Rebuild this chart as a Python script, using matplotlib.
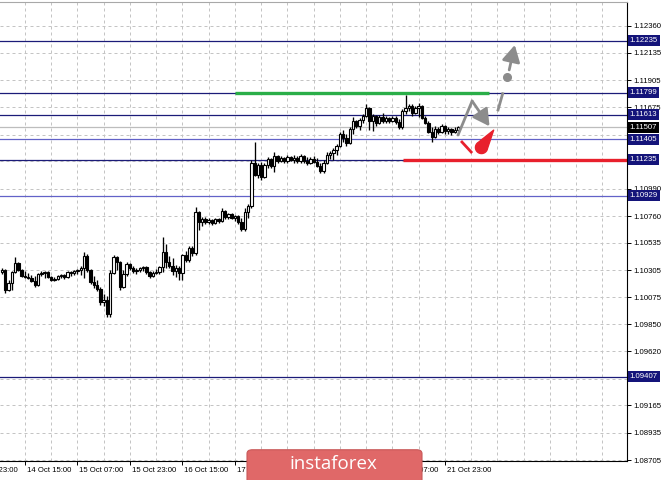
import matplotlib.pyplot as plt
from matplotlib.patches import FancyBboxPatch
from matplotlib.path import Path
import numpy as np

plt.rcParams['font.family'] = ['Liberation Sans', 'DejaVu Sans']

# hourly candles, bar index counted from 11 Oct 23:00 (weekend skipped)
first_bar = 9
opens = [
    1.10289, 1.10305, 1.10137, 1.10196, 1.10289, 1.10364, 1.10305, 1.10255, 1.10246, 1.10238,
    1.10213, 1.10179, 1.10272, 1.10280, 1.10289, 1.10246, 1.10221, 1.10229, 1.10255, 1.10263,
    1.10246, 1.10289, 1.10280, 1.10297, 1.10305, 1.10322, 1.10423, 1.10305, 1.10204, 1.10179,
    1.10145, 1.10036, 1.10053, 1.09935, 1.10280, 1.10415, 1.10373, 1.10162, 1.10272, 1.10356,
    1.10322, 1.10297, 1.10305, 1.10322, 1.10330, 1.10289, 1.10255, 1.10280, 1.10289, 1.10330,
    1.10457, 1.10373, 1.10339, 1.10297, 1.10322, 1.10280, 1.10432, 1.10389, 1.10490, 1.10449,
    1.10794, 1.10710, 1.10735, 1.10710, 1.10726, 1.10701, 1.10735, 1.10718, 1.10802, 1.10752,
    1.10777, 1.10743, 1.10760, 1.10710, 1.10650, 1.10794, 1.10844, 1.11206, 1.11105, 1.11189,
    1.11088, 1.11189, 1.11240, 1.11181, 1.11265, 1.11223, 1.11248, 1.11223, 1.11257, 1.11231,
    1.11248, 1.11223, 1.11265, 1.11223, 1.11206, 1.11240, 1.11215, 1.11181, 1.11139, 1.11206,
    1.11273, 1.11290, 1.11316, 1.11349, 1.11450, 1.11417, 1.11375, 1.11493, 1.11560, 1.11518,
    1.11568, 1.11602, 1.11669, 1.11560, 1.11602, 1.11543, 1.11594, 1.11560, 1.11585, 1.11560,
    1.11585, 1.11552, 1.11509, 1.11644, 1.11669, 1.11686, 1.11627, 1.11669, 1.11686, 1.11585,
    1.11543, 1.11467, 1.11425, 1.11493, 1.11467, 1.11518, 1.11476, 1.11493, 1.11467, 1.11484,
]
highs = [
    1.10322, 1.10314, 1.10221, 1.10297, 1.10415, 1.10373, 1.10314, 1.10297, 1.10280, 1.10263,
    1.10255, 1.10280, 1.10297, 1.10297, 1.10297, 1.10255, 1.10246, 1.10263, 1.10272, 1.10272,
    1.10297, 1.10297, 1.10305, 1.10314, 1.10339, 1.10457, 1.10440, 1.10314, 1.10255, 1.10221,
    1.10162, 1.10103, 1.10086, 1.10305, 1.10432, 1.10423, 1.10381, 1.10305, 1.10373, 1.10364,
    1.10339, 1.10322, 1.10330, 1.10339, 1.10339, 1.10297, 1.10297, 1.10314, 1.10339, 1.10583,
    1.10524, 1.10423, 1.10406, 1.10347, 1.10339, 1.10440, 1.10465, 1.10507, 1.10507, 1.10836,
    1.10802, 1.10752, 1.10752, 1.10743, 1.10735, 1.10743, 1.10743, 1.10827, 1.10811, 1.10785,
    1.10785, 1.10769, 1.10769, 1.10743, 1.10827, 1.10861, 1.11231, 1.11383, 1.11206, 1.11215,
    1.11206, 1.11257, 1.11248, 1.11299, 1.11273, 1.11265, 1.11257, 1.11273, 1.11265, 1.11273,
    1.11265, 1.11282, 1.11273, 1.11257, 1.11257, 1.11265, 1.11248, 1.11206, 1.11231, 1.11299,
    1.11307, 1.11332, 1.11366, 1.11467, 1.11484, 1.11450, 1.11509, 1.11594, 1.11568, 1.11585,
    1.11619, 1.11703, 1.11678, 1.11619, 1.11610, 1.11610, 1.11627, 1.11602, 1.11594, 1.11602,
    1.11602, 1.11577, 1.11661, 1.11779, 1.11703, 1.11703, 1.11686, 1.11712, 1.11695, 1.11602,
    1.11560, 1.11509, 1.11518, 1.11509, 1.11535, 1.11526, 1.11509, 1.11501, 1.11509, 1.11518,
]
lows = [
    1.10272, 1.10111, 1.10128, 1.10137, 1.10280, 1.10297, 1.10246, 1.10238, 1.10229, 1.10204,
    1.10162, 1.10170, 1.10255, 1.10238, 1.10238, 1.10213, 1.10213, 1.10221, 1.10238, 1.10229,
    1.10238, 1.10255, 1.10263, 1.10272, 1.10263, 1.10238, 1.10289, 1.10187, 1.10154, 1.10128,
    1.10011, 1.10002, 1.09910, 1.09910, 1.10272, 1.10305, 1.10137, 1.10154, 1.10255, 1.10305,
    1.10280, 1.10272, 1.10289, 1.10297, 1.10272, 1.10238, 1.10246, 1.10272, 1.10272, 1.10289,
    1.10322, 1.10322, 1.10263, 1.10246, 1.10221, 1.10221, 1.10373, 1.10373, 1.10423, 1.10432,
    1.10642, 1.10676, 1.10693, 1.10693, 1.10684, 1.10693, 1.10701, 1.10710, 1.10735, 1.10735,
    1.10735, 1.10718, 1.10693, 1.10634, 1.10634, 1.10743, 1.10827, 1.11097, 1.11080, 1.11063,
    1.11080, 1.11164, 1.11164, 1.11130, 1.11206, 1.11215, 1.11206, 1.11206, 1.11223, 1.11206,
    1.11206, 1.11206, 1.11206, 1.11189, 1.11198, 1.11206, 1.11172, 1.11122, 1.11122, 1.11198,
    1.11240, 1.11231, 1.11273, 1.11341, 1.11383, 1.11349, 1.11366, 1.11450, 1.11501, 1.11484,
    1.11543, 1.11594, 1.11484, 1.11476, 1.11518, 1.11535, 1.11543, 1.11543, 1.11543, 1.11552,
    1.11535, 1.11493, 1.11493, 1.11619, 1.11644, 1.11602, 1.11619, 1.11594, 1.11577, 1.11535,
    1.11459, 1.11383, 1.11417, 1.11450, 1.11459, 1.11450, 1.11450, 1.11442, 1.11459, 1.11476,
]
closes = [
    1.10305, 1.10137, 1.10196, 1.10289, 1.10364, 1.10305, 1.10255, 1.10246, 1.10238, 1.10213,
    1.10179, 1.10272, 1.10280, 1.10289, 1.10246, 1.10221, 1.10229, 1.10255, 1.10263, 1.10246,
    1.10289, 1.10280, 1.10297, 1.10305, 1.10322, 1.10423, 1.10305, 1.10204, 1.10179, 1.10145,
    1.10036, 1.10053, 1.09935, 1.10280, 1.10415, 1.10373, 1.10162, 1.10272, 1.10356, 1.10322,
    1.10297, 1.10305, 1.10322, 1.10330, 1.10289, 1.10255, 1.10280, 1.10289, 1.10330, 1.10457,
    1.10373, 1.10339, 1.10297, 1.10322, 1.10280, 1.10432, 1.10389, 1.10490, 1.10449, 1.10794,
    1.10710, 1.10735, 1.10710, 1.10726, 1.10701, 1.10735, 1.10718, 1.10802, 1.10752, 1.10777,
    1.10743, 1.10760, 1.10710, 1.10650, 1.10794, 1.10844, 1.11206, 1.11105, 1.11189, 1.11088,
    1.11189, 1.11240, 1.11181, 1.11265, 1.11223, 1.11248, 1.11223, 1.11257, 1.11231, 1.11248,
    1.11223, 1.11265, 1.11223, 1.11206, 1.11240, 1.11215, 1.11181, 1.11139, 1.11206, 1.11273,
    1.11290, 1.11316, 1.11349, 1.11450, 1.11417, 1.11375, 1.11493, 1.11560, 1.11518, 1.11568,
    1.11602, 1.11669, 1.11560, 1.11602, 1.11543, 1.11594, 1.11560, 1.11585, 1.11560, 1.11585,
    1.11552, 1.11509, 1.11644, 1.11669, 1.11686, 1.11627, 1.11669, 1.11686, 1.11585, 1.11543,
    1.11467, 1.11425, 1.11493, 1.11467, 1.11518, 1.11476, 1.11493, 1.11467, 1.11484, 1.11507,
]

price_ticks = [1.12360, 1.12135, 1.11905, 1.11675, 1.11445, 1.11220, 1.10990, 1.10760, 1.10535,
               1.10305, 1.10075, 1.09850, 1.09620, 1.09390, 1.09165, 1.08935, 1.08705]
hidden_ticks = [1.11445, 1.11220, 1.09390]   # covered by the level tags
time_labels = ['11 Oct 23:00', '14 Oct 15:00', '15 Oct 07:00', '15 Oct 23:00', '16 Oct 15:00',
               '17 Oct 07:00', '', '', '21 Oct 07:00', '21 Oct 23:00']
bars_per_label = 16

# horizontal levels drawn on the chart
level_prices = [1.12235, 1.11799, 1.11613, 1.11405, 1.11235, 1.10929, 1.09407]
level_colors = ['#1b1b78', '#1b1b78', '#1b1b78', '#6262c8', '#1b1b78', '#6262c8', '#1b1b78']
current_price = 1.11507
resistance = 1.11799
support = 1.11235

fig = plt.figure(figsize=(6.65, 4.8), dpi=100)
ax = fig.add_axes([0, 19 / 480, 627 / 665, 459 / 480])

# grid
grid_kw = dict(color='#c4c4c4', lw=0.72, ls=(0, (3, 3)), zorder=0)
for p in price_ticks:
    ax.axhline(p, **grid_kw)
for k in range(0, 26):
    ax.axvline(k * bars_per_label / 2, **grid_kw)

# levels
ax.axhline(current_price, color='#bdbdbd', lw=0.9, zorder=1)
for p, c in zip(level_prices, level_colors):
    ax.axhline(p, color=c, lw=0.9, zorder=1)
ax.plot([80, 157.5], [resistance, resistance], color='#2aae48', lw=2.4, zorder=2,
        solid_capstyle='butt')
ax.plot([131.2, 199.5], [support, support], color='#e8202c', lw=2.4, zorder=2,
        solid_capstyle='butt')

# candles
o = np.array(opens)
h = np.array(highs)
l = np.array(lows)
c = np.array(closes)
x = np.arange(first_bar, first_bar + len(o))
ax.vlines(x, l, h, color='black', lw=0.95, zorder=3)
up = c >= o
body_lo = np.minimum(o, c)
body_h = np.maximum(np.abs(c - o), 0.00003)
ax.bar(x[up], body_h[up], bottom=body_lo[up], width=0.72, color='white',
       edgecolor='black', lw=0.8, zorder=4)
ax.bar(x[~up], body_h[~up], bottom=body_lo[~up], width=0.72, color='black',
       edgecolor='black', lw=0.8, zorder=4)

# forecast arrows
gray = '#8c8c8c'
red = '#e8202c'
ax.plot([148.0, 152.3], [1.11442, 1.11728], color=gray, lw=2.0, zorder=5,
        solid_capstyle='round')
ax.annotate('', xy=(157.6, 1.11515), xytext=(152.3, 1.11728),
            arrowprops=dict(arrowstyle='-|>,head_length=1.0,head_width=0.55',
                            color=gray, lw=2.0, shrinkA=0, shrinkB=0), zorder=5)
ax.plot([160.2, 161.6], [1.11653, 1.11790], color=gray, lw=2.0, zorder=5)
ax.plot([163.0], [1.11930], 'o', color=gray, ms=5.5, zorder=5)
ax.annotate('', xy=(165.3, 1.12200), xytext=(163.6, 1.11990),
            arrowprops=dict(arrowstyle='-|>,head_length=1.0,head_width=0.55',
                            color=gray, lw=2.0, shrinkA=0, shrinkB=0), zorder=5)
ax.plot([149.2, 152.0], [1.11383, 1.11299], color=red, lw=2.0, zorder=5)

# red drop: round bottom, tip pointing up-right
ang = np.radians(np.linspace(120, 350, 40))
tip = np.radians(55)
drop_xy = np.vstack([np.column_stack([np.cos(ang), np.sin(ang)]),
                     [[3.5 * np.cos(tip), 3.5 * np.sin(tip)]],
                     [[np.cos(ang[0]), np.sin(ang[0])]]])
drop = Path(drop_xy, closed=True)
ax.plot([155.0], [1.11341], marker=drop, ms=25, color=red, mec=red, lw=0, zorder=5)

# axes styling
ax.spines['left'].set_visible(False)
ax.spines['top'].set_color('#a8a8a8')
ax.spines['right'].set_color('black')
ax.spines['bottom'].set_color('black')
ax.yaxis.tick_right()
ax.set_yticks(price_ticks)
ax.set_yticklabels(['' if p in hidden_ticks else '%.5f' % p for p in price_ticks])
ax.tick_params(axis='y', length=3, width=0.7, labelsize=5.6, pad=1.5)
label_pos = [k * bars_per_label for k in range(len(time_labels))]
ax.set_xticks(label_pos)
ax.set_xticklabels([])
ax.tick_params(axis='x', length=3, width=0.7)
ax.set_xlim(8.4, 199.5)
ax.set_ylim(1.08697, 1.12562)

# time labels placed just right of their ticks (first one is cut by the edge, as in MT4)
xtr = ax.get_xaxis_transform()
for pos, txt in zip(label_pos, time_labels):
    if txt:
        ax.text(pos + 0.6, -0.012, txt, transform=xtr, ha='left', va='top', fontsize=5.6,
                clip_on=False)

# level price tags on the right axis
ytr = ax.get_yaxis_transform()
for p in level_prices:
    ax.text(1.004, p, '%.5f' % p, transform=ytr, ha='left', va='center', color='white',
            fontsize=5.6, clip_on=False, zorder=10,
            bbox=dict(boxstyle='square,pad=0.25', fc='#14147a', ec='none'))
ax.text(1.004, current_price, '%.5f' % current_price, transform=ytr, ha='left', va='center',
        color='white', fontsize=5.6, clip_on=False, zorder=10,
        bbox=dict(boxstyle='square,pad=0.25', fc='black', ec='none'))

# watermark
fig.patches.append(FancyBboxPatch((247 / 665, -0.02), 175 / 665, 0.083,
                                  boxstyle='round,pad=0,rounding_size=0.008',
                                  transform=fig.transFigure, fc='#e06868', ec='#c85858',
                                  lw=0.8, zorder=5))
fig.text(333 / 665, 1 - 464 / 480, 'instaforex', color='white', fontsize=13.5,
         family='Open Sans', ha='center', va='center', zorder=6)

fig.savefig('out.png', dpi=100)
